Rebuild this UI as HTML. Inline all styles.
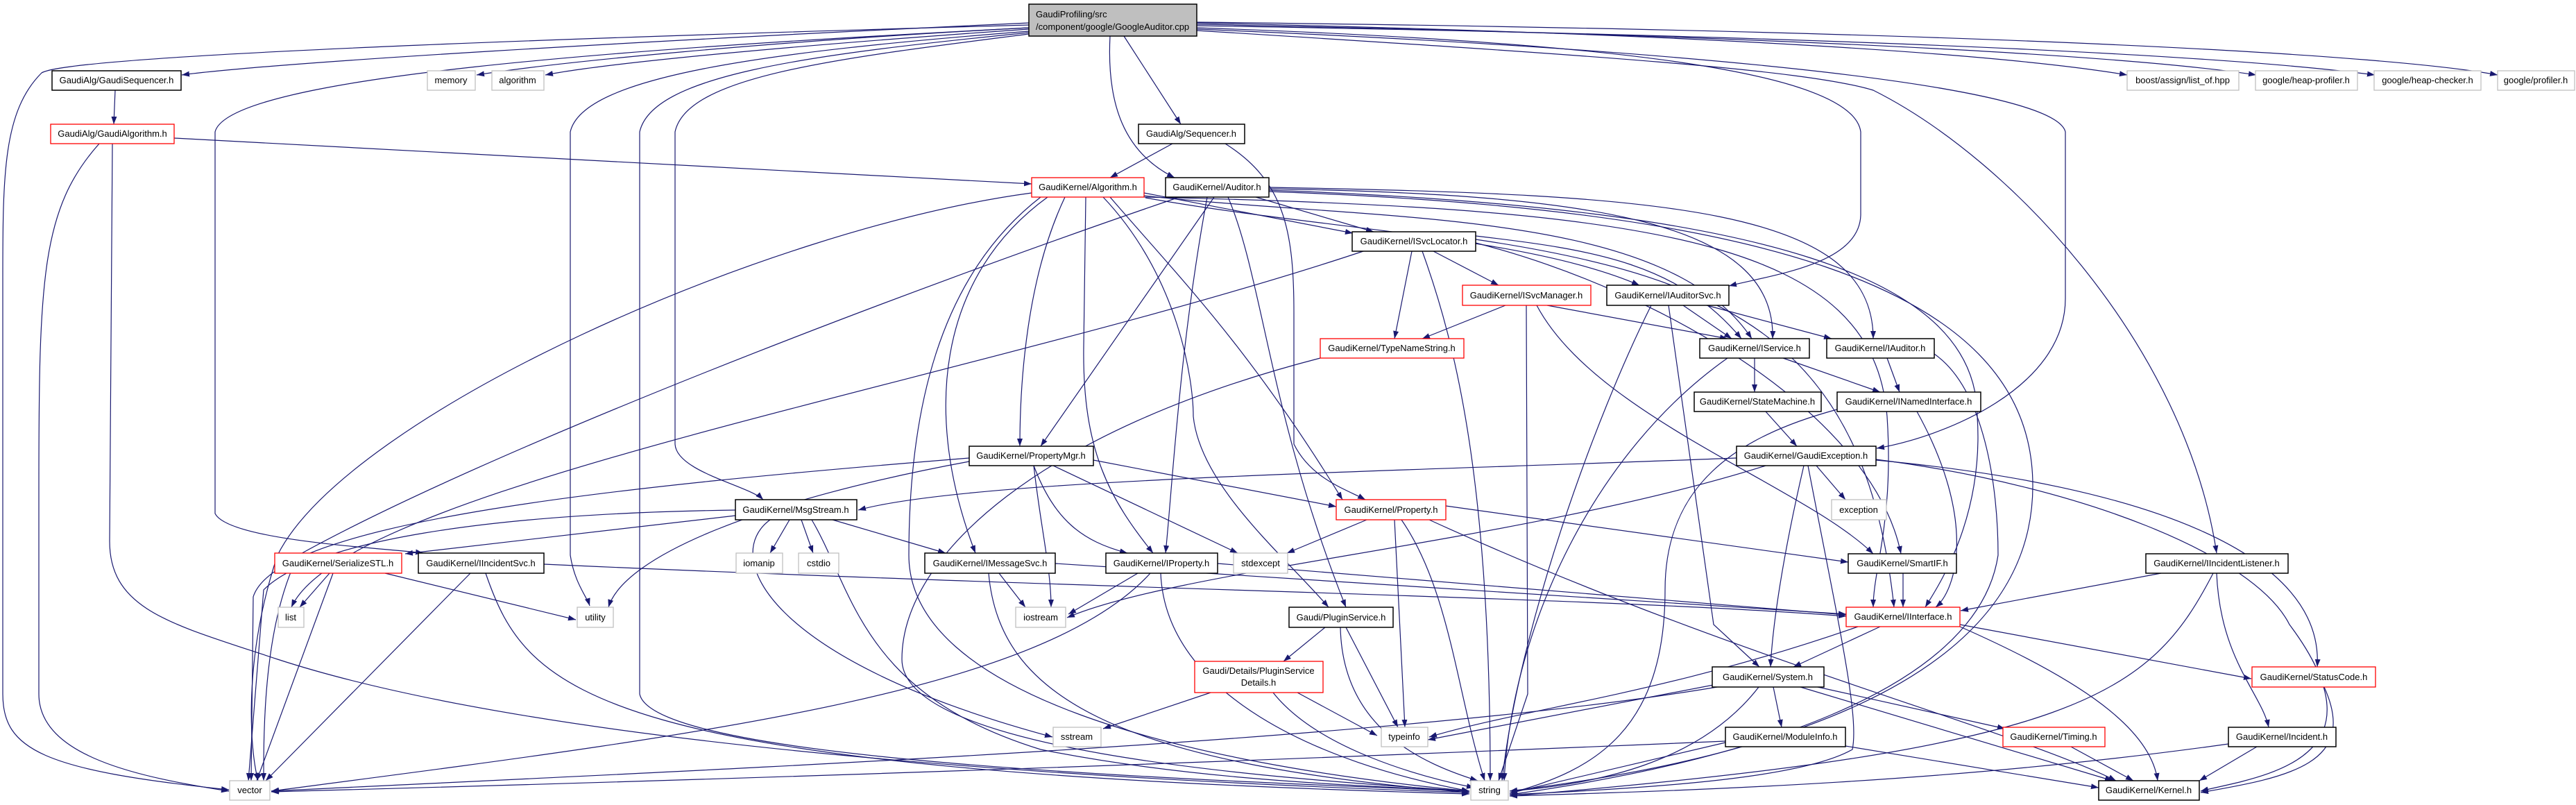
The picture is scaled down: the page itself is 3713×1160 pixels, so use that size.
<!DOCTYPE html>
<html><head><meta charset="utf-8"><style>
html,body{margin:0;padding:0;background:#fff;}
svg{display:block;}
text{font-family:"Liberation Sans",sans-serif;font-size:13px;fill:#000;text-anchor:middle;}
.e{fill:none;stroke:#191970;stroke-width:1.2;marker-end:url(#a);}
.b{fill:#fff;stroke:#000;stroke-width:1.5;}
.r{fill:#fff;stroke:#ff0000;stroke-width:1.3;}
.g{fill:#fff;stroke:#bfbfbf;stroke-width:1.3;}
</style></head><body>
<svg width="3713" height="1160" viewBox="0 0 3713 1160" xmlns="http://www.w3.org/2000/svg">
<defs><marker id="a" markerUnits="userSpaceOnUse" markerWidth="12" markerHeight="9" refX="11" refY="4" orient="auto"><path d="M0,0 L11,4 L0,8 z" fill="#191970"/></marker></defs>
<g>
<!-- main -->
<path class="e" d="M1483,33 C900,60 400,90 262,108"/>
<path class="e" d="M1483,40 C1100,60 800,90 687,108"/>
<path class="e" d="M1483,42 C1150,65 880,90 786,108"/>
<path class="e" d="M1483,36 C800,55 100,80 60,105 C5,160 4,250 4,400 L4,1000 C4,1080 60,1110 330,1138"/>
<path class="e" d="M1483,40 C900,70 330,110 310,190 L310,740 C330,780 560,790 610,797"/>
<path class="e" d="M1483,45 C1100,75 840,110 822,190 L822,800 C828,840 846,860 850,873"/>
<path class="e" d="M1483,47 C1150,80 940,110 922,190 L922,1000 C940,1090 1600,1120 2118,1140"/>
<path class="e" d="M1483,49 C1200,85 990,110 973,190 L973,640 C975,680 1080,700 1100,720"/>
<path class="e" d="M1725,33 C2500,50 2900,80 3066,108"/>
<path class="e" d="M1725,35 C2700,55 3100,85 3252,108"/>
<path class="e" d="M1725,37 C2800,55 3250,85 3423,108"/>
<path class="e" d="M1725,32 C2900,45 3450,80 3600,108"/>
<path class="e" d="M1725,40 C2300,60 2670,100 2682,190 L2682,310 C2680,380 2560,395 2492,412"/>
<path class="e" d="M1725,42 C2400,70 2960,120 2977,190 L2977,430 C2977,560 2800,630 2705,646"/>
<path class="e" d="M1725,44 C2300,80 2600,100 2700,130 C2900,230 3150,500 3195,797"/>
<path class="e" d="M1620,52 L1702,179"/>
<path class="e" d="M1600,52 C1595,150 1620,220 1693,256"/>
<!-- GaudiSequencer / GaudiAlgorithm -->
<path class="e" d="M166,130 L164,179"/>
<path class="e" d="M251,199 L1487,265"/>
<path class="e" d="M143,207 C60,300 56,400 56,700 L56,1000 C56,1090 200,1120 330,1140"/>
<path class="e" d="M162,207 L158,780 C158,880 250,900 400,950 C800,1080 1600,1125 2118,1142"/>
<!-- Sequencer -->
<path class="e" d="M1690,207 L1600,256"/>
<path class="e" d="M1766,207 C1850,260 1865,330 1865,450 L1865,640 C1890,690 1940,705 1968,720"/>
<!-- Algorithm -->
<path class="e" d="M1487,278 C1100,330 500,600 400,800 C350,950 360,1080 372,1125"/>
<path class="e" d="M1500,284 C1350,400 1310,600 1310,800 C1310,1000 1700,1100 2118,1140"/>
<path class="e" d="M1535,284 C1480,400 1470,550 1470,643"/>
<path class="e" d="M1510,284 C1350,400 1330,600 1406,797"/>
<path class="e" d="M1565,284 L1562,500 C1560,650 1600,720 1662,797"/>
<path class="e" d="M1600,284 C1700,400 1800,500 1935,720"/>
<path class="e" d="M1590,284 C1700,400 1720,550 1720,600 C1730,700 1850,800 1915,875"/>
<path class="e" d="M1649,278 L1950,336"/>
<path class="e" d="M1651,285 C1900,330 2200,340 2363,411"/>
<path class="e" d="M1649,282 C2000,320 2400,300 2525,488"/>
<path class="e" d="M1649,284 C2400,300 2700,350 2720,600 C2730,750 2700,820 2700,875"/>
<!-- Auditor -->
<path class="e" d="M1810,284 L1980,334"/>
<path class="e" d="M1829,272 C2300,280 2560,320 2555,488"/>
<path class="e" d="M1829,270 C2400,280 2700,300 2700,488"/>
<path class="e" d="M1750,284 L1500,643"/>
<path class="e" d="M1740,284 C1700,500 1690,700 1680,797"/>
<path class="e" d="M1770,284 C1820,400 1830,600 1940,875"/>
<path class="e" d="M1829,276 C2500,300 2930,400 2930,700 C2930,1000 2500,1100 2176,1140"/>
<path class="e" d="M1700,284 C1300,420 700,650 430,800 C380,900 380,1050 380,1125"/>
<path class="e" d="M1829,274 C2550,300 2850,400 2850,600 C2860,750 2790,850 2775,875"/>
<!-- ISvcLocator -->
<path class="e" d="M2066,362 L2160,411"/>
<path class="e" d="M2035,362 L2010,488"/>
<path class="e" d="M2050,362 C2100,500 2148,700 2148,1125"/>
<path class="e" d="M1965,362 C1400,550 500,700 420,875"/>
<path class="e" d="M2127,340 C2300,360 2420,380 2510,488"/>
<path class="e" d="M2127,350 C2400,420 2700,600 2740,798"/>
<path class="e" d="M2127,345 C2500,400 2690,500 2730,875"/>
<!-- ISvcManager / IAuditorSvc / TypeNameString -->
<path class="e" d="M2230,440 L2490,488"/>
<path class="e" d="M2170,440 L2050,488"/>
<path class="e" d="M2200,440 L2202,1000 L2160,1125"/>
<path class="e" d="M2215,440 C2300,600 2600,700 2700,798"/>
<path class="e" d="M2426,440 L2496,488"/>
<path class="e" d="M2460,440 L2640,488"/>
<path class="e" d="M2380,440 C2300,600 2190,900 2165,1125"/>
<path class="e" d="M2405,440 L2470,900 L2536,961"/>
<path class="e" d="M1903,516 C1500,620 1300,800 1300,950 C1300,1080 1800,1120 2118,1140"/>
<!-- IService / IAuditor / StateMachine / INamedInterface -->
<path class="e" d="M2529,516 L2529,565"/>
<path class="e" d="M2570,516 L2710,565"/>
<path class="e" d="M2490,516 C2300,650 2180,900 2168,1125"/>
<path class="e" d="M2720,516 L2738,565"/>
<path class="e" d="M2788,510 C2860,560 2880,700 2880,800 C2850,1000 2500,1100 2176,1145"/>
<path class="e" d="M2545,593 L2590,643"/>
<path class="e" d="M2763,593 C2850,750 2820,850 2790,875"/>
<path class="e" d="M2648,590 C2500,630 2400,700 2400,850 C2400,1050 2300,1110 2176,1143"/>
<!-- GaudiException -->
<path class="e" d="M2503,660 C2000,680 1400,690 1237,735"/>
<path class="e" d="M2618,671 L2660,720"/>
<path class="e" d="M2600,671 C2570,800 2555,900 2552,961"/>
<path class="e" d="M2606,671 C2650,900 2680,1030 2670,1080 C2600,1120 2400,1135 2176,1145"/>
<path class="e" d="M2704,663 C3100,700 3350,800 3340,961"/>
<path class="e" d="M2704,662 C3000,700 3250,800 3300,900 C3450,1100 3250,1120 3172,1140"/>
<path class="e" d="M2545,671 C2200,780 1700,820 1538,890"/>
<!-- PropertyMgr -->
<path class="e" d="M1576,663 L1926,730"/>
<path class="e" d="M1490,671 C1520,750 1560,780 1625,797"/>
<path class="e" d="M1490,671 C1500,760 1515,820 1515,875"/>
<path class="e" d="M1518,671 L1784,797"/>
<path class="e" d="M1397,660 C900,700 400,750 365,860 L362,1125"/>
<path class="e" d="M1397,665 C1100,720 900,800 877,875"/>
<!-- MsgStream -->
<path class="e" d="M1060,743 L584,798"/>
<path class="e" d="M1200,749 L1363,797"/>
<path class="e" d="M1138,749 L1110,797"/>
<path class="e" d="M1155,749 L1172,797"/>
<path class="e" d="M1170,749 C1230,850 1240,1000 1500,1080 C1700,1120 1900,1130 2118,1140"/>
<path class="e" d="M1060,735 C700,740 450,780 380,850 L358,1125"/>
<path class="e" d="M1110,749 C1040,800 1100,950 1517,1062"/>
<!-- Property -->
<path class="e" d="M1970,749 L1855,797"/>
<path class="e" d="M2084,729 L2664,810"/>
<path class="e" d="M2010,749 L2025,1048"/>
<path class="e" d="M2020,749 C2090,850 2100,1000 2140,1125"/>
<path class="e" d="M2060,749 C2500,950 2900,1050 3050,1125"/>
<!-- SerializeSTL / IIncidentSvc -->
<path class="e" d="M475,826 L432,875"/>
<path class="e" d="M480,826 L370,1125"/>
<path class="e" d="M555,826 L830,893"/>
<path class="e" d="M678,826 L383,1125"/>
<path class="e" d="M700,826 C760,1000 850,1110 2118,1144"/>
<path class="e" d="M784,813 C1600,850 2300,860 2661,888"/>
<!-- IMessageSvc / IProperty -->
<path class="e" d="M1440,826 L1478,875"/>
<path class="e" d="M1425,826 C1440,1000 1600,1100 2118,1142"/>
<path class="e" d="M1521,812 L2661,885"/>
<path class="e" d="M1640,826 L1540,885"/>
<path class="e" d="M1673,826 C1680,1000 1900,1100 2118,1140"/>
<path class="e" d="M1658,826 C1500,1000 1000,1060 391,1140"/>
<path class="e" d="M1755,812 L2661,886"/>
<!-- PluginService -->
<path class="e" d="M1910,904 L1850,953"/>
<path class="e" d="M1940,904 L2015,1048"/>
<path class="e" d="M1932,904 C1935,1050 2050,1100 2130,1125"/>
<path class="e" d="M1745,998 L1590,1050"/>
<path class="e" d="M1870,998 L1985,1060"/>
<path class="e" d="M1835,998 C1900,1080 2050,1120 2125,1135"/>
<!-- SmartIF / IIncidentListener -->
<path class="e" d="M2743,826 L2743,875"/>
<path class="e" d="M3115,826 L2826,880"/>
<path class="e" d="M3195,826 C3200,950 3260,1000 3270,1048"/>
<path class="e" d="M3190,826 C3100,1000 3000,1080 2176,1147"/>
<!-- IInterface -->
<path class="e" d="M2710,903 L2585,961"/>
<path class="e" d="M2825,900 L3245,978"/>
<path class="e" d="M2825,903 C3000,980 3100,1050 3110,1125"/>
<path class="e" d="M2678,903 C2400,1000 2200,1020 2060,1062"/>
<!-- System -->
<path class="e" d="M2556,990 L2568,1048"/>
<path class="e" d="M2620,990 L2890,1050"/>
<path class="e" d="M2595,990 L3045,1125"/>
<path class="e" d="M2480,985 L2058,1066"/>
<path class="e" d="M2535,990 C2450,1100 2300,1130 2176,1140"/>
<path class="e" d="M2475,990 C2000,1070 1000,1110 391,1140"/>
<path class="e" d="M2660,1075 L3025,1135"/>
<path class="e" d="M2487,1070 L2176,1143"/>
<path class="e" d="M2487,1068 C1500,1110 800,1130 391,1141"/>
<path class="e" d="M2985,1076 L3075,1125"/>
<path class="e" d="M3253,1076 L3170,1125"/>
<path class="e" d="M3212,1072 C2800,1130 2400,1140 2176,1147"/>
<path class="e" d="M3350,990 C3400,1100 3300,1120 3172,1142"/>
</g>
<g>
<rect x="1483" y="6" width="242" height="46" fill="#bfbfbf" stroke="#000" stroke-width="1.5"/>
<text x="1493" y="25" style="text-anchor:start">GaudiProfiling/src</text>
<text x="1493" y="43" style="text-anchor:start">/component/google/GoogleAuditor.cpp</text>

<rect class="b" x="75" y="102" width="186" height="28"/><text x="168" y="120">GaudiAlg/GaudiSequencer.h</text>
<rect class="r" x="73" y="179" width="178" height="28"/><text x="162" y="197">GaudiAlg/GaudiAlgorithm.h</text>
<rect class="g" x="616" y="102" width="69" height="28"/><text x="650" y="120">memory</text>
<rect class="g" x="709" y="102" width="75" height="28"/><text x="746" y="120">algorithm</text>
<rect class="b" x="1641" y="179" width="153" height="28"/><text x="1717" y="197">GaudiAlg/Sequencer.h</text>
<rect class="r" x="1487" y="256" width="162" height="28"/><text x="1568" y="274">GaudiKernel/Algorithm.h</text>
<rect class="b" x="1680" y="256" width="149" height="28"/><text x="1754" y="274">GaudiKernel/Auditor.h</text>
<rect class="b" x="1949" y="334" width="178" height="28"/><text x="2038" y="352">GaudiKernel/ISvcLocator.h</text>
<rect class="r" x="2108" y="411" width="185" height="29"/><text x="2200" y="430">GaudiKernel/ISvcManager.h</text>
<rect class="b" x="2316" y="411" width="176" height="29"/><text x="2404" y="430">GaudiKernel/IAuditorSvc.h</text>
<rect class="r" x="1903" y="488" width="207" height="28"/><text x="2006" y="506">GaudiKernel/TypeNameString.h</text>
<rect class="b" x="2450" y="488" width="158" height="28"/><text x="2529" y="506">GaudiKernel/IService.h</text>
<rect class="b" x="2633" y="488" width="155" height="28"/><text x="2710" y="506">GaudiKernel/IAuditor.h</text>
<rect class="b" x="2442" y="565" width="183" height="28"/><text x="2533" y="583">GaudiKernel/StateMachine.h</text>
<rect class="b" x="2648" y="565" width="207" height="28"/><text x="2751" y="583">GaudiKernel/INamedInterface.h</text>
<rect class="b" x="2503" y="643" width="201" height="28"/><text x="2603" y="661">GaudiKernel/GaudiException.h</text>
<rect class="g" x="2640" y="720" width="79" height="29"/><text x="2679" y="739">exception</text>
<rect class="b" x="1397" y="643" width="179" height="28"/><text x="1486" y="661">GaudiKernel/PropertyMgr.h</text>
<rect class="r" x="1926" y="720" width="158" height="29"/><text x="2005" y="739">GaudiKernel/Property.h</text>
<rect class="b" x="1060" y="720" width="175" height="29"/><text x="1147" y="739">GaudiKernel/MsgStream.h</text>
<rect class="r" x="396" y="797" width="183" height="29"/><text x="487" y="816">GaudiKernel/SerializeSTL.h</text>
<rect class="b" x="603" y="797" width="181" height="29"/><text x="693" y="816">GaudiKernel/IIncidentSvc.h</text>
<rect class="g" x="1061" y="797" width="67" height="29"/><text x="1094" y="816">iomanip</text>
<rect class="g" x="1151" y="797" width="58" height="29"/><text x="1180" y="816">cstdio</text>
<rect class="b" x="1333" y="797" width="188" height="29"/><text x="1427" y="816">GaudiKernel/IMessageSvc.h</text>
<rect class="b" x="1594" y="797" width="161" height="29"/><text x="1674" y="816">GaudiKernel/IProperty.h</text>
<rect class="g" x="1778" y="797" width="78" height="29"/><text x="1817" y="816">stdexcept</text>
<rect class="b" x="2664" y="798" width="156" height="28"/><text x="2742" y="816">GaudiKernel/SmartIF.h</text>
<rect class="b" x="3093" y="798" width="205" height="28"/><text x="3195" y="816">GaudiKernel/IIncidentListener.h</text>
<rect class="g" x="401" y="875" width="37" height="29"/><text x="419" y="894">list</text>
<rect class="g" x="832" y="875" width="52" height="29"/><text x="858" y="894">utility</text>
<rect class="g" x="1464" y="875" width="72" height="29"/><text x="1500" y="894">iostream</text>
<rect class="b" x="1858" y="875" width="150" height="29"/><text x="1933" y="894">Gaudi/PluginService.h</text>
<rect class="r" x="2661" y="875" width="164" height="28"/><text x="2743" y="893">GaudiKernel/IInterface.h</text>
<rect class="r" x="1722" y="953" width="185" height="45"/><text x="1814" y="971">Gaudi/Details/PluginService</text><text x="1814" y="988">Details.h</text>
<rect class="b" x="2468" y="961" width="161" height="29"/><text x="2548" y="980">GaudiKernel/System.h</text>
<rect class="r" x="3246" y="961" width="178" height="29"/><text x="3335" y="980">GaudiKernel/StatusCode.h</text>
<rect class="g" x="1518" y="1048" width="69" height="28"/><text x="1552" y="1066">sstream</text>
<rect class="g" x="1991" y="1048" width="67" height="28"/><text x="2024" y="1066">typeinfo</text>
<rect class="b" x="2487" y="1048" width="173" height="28"/><text x="2573" y="1066">GaudiKernel/ModuleInfo.h</text>
<rect class="r" x="2887" y="1048" width="147" height="28"/><text x="2960" y="1066">GaudiKernel/Timing.h</text>
<rect class="b" x="3212" y="1048" width="155" height="28"/><text x="3289" y="1066">GaudiKernel/Incident.h</text>
<rect class="g" x="331" y="1125" width="58" height="28"/><text x="360" y="1143">vector</text>
<rect class="g" x="2120" y="1125" width="54" height="28"/><text x="2147" y="1143">string</text>
<rect class="b" x="3025" y="1125" width="145" height="28"/><text x="3097" y="1143">GaudiKernel/Kernel.h</text>
<rect class="g" x="3066" y="102" width="161" height="28"/><text x="3146" y="120">boost/assign/list_of.hpp</text>
<rect class="g" x="3251" y="102" width="147" height="28"/><text x="3324" y="120">google/heap-profiler.h</text>
<rect class="g" x="3422" y="102" width="154" height="28"/><text x="3499" y="120">google/heap-checker.h</text>
<rect class="g" x="3600" y="102" width="111" height="28"/><text x="3655" y="120">google/profiler.h</text>
</g>
</svg>
</body></html>
